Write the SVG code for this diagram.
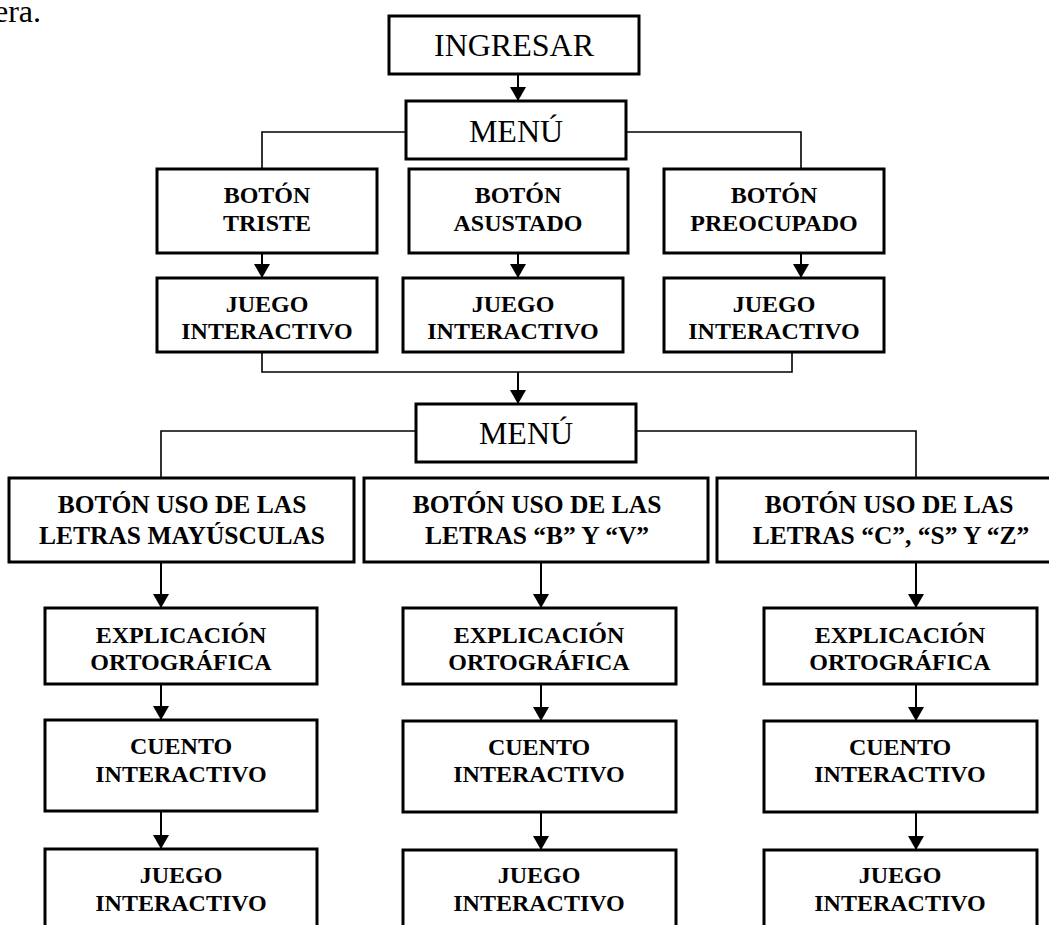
<svg xmlns="http://www.w3.org/2000/svg" width="1049" height="925" viewBox="0 0 1049 925">
<style>
.box{fill:#fff;stroke:#000;stroke-width:3}
.t{font-family:"Liberation Serif","Times New Roman",serif;fill:#000;text-anchor:middle}
.big{font-size:32px}
.b{font-size:24px;font-weight:bold}
.b2{font-size:25.5px;font-weight:bold}
.ln{fill:none;stroke:#000;stroke-width:1.6}
.ar{fill:none;stroke:#000;stroke-width:2;marker-end:url(#ah)}
</style>
<defs>
<marker id="ah" markerUnits="userSpaceOnUse" markerWidth="16" markerHeight="16" refX="14" refY="8" orient="auto">
<path d="M0,0 L14,8 L0,16 z" fill="#000"/>
</marker>
</defs>
<rect width="1049" height="925" fill="#fff"/>
<text class="t big" x="41" y="22" style="text-anchor:end">era.</text>
<g id="connectors">
<path class="ar" d="M518,75 V101"/>
<path class="ln" d="M406,132 H262 V169"/>
<path class="ln" d="M626,132 H801 V169"/>
<path class="ar" d="M262,253 V278"/>
<path class="ar" d="M518,253 V278"/>
<path class="ar" d="M801,253 V278"/>
<path class="ln" d="M262,352 V372 H792 V352"/>
<path class="ar" d="M518,372 V404"/>
<path class="ln" d="M416,431 H161 V478"/>
<path class="ln" d="M636,431 H916 V478"/>
<path class="ar" d="M161,562 V608"/>
<path class="ar" d="M541,562 V608"/>
<path class="ar" d="M916,562 V608"/>
<path class="ar" d="M161,684 V720"/>
<path class="ar" d="M541,684 V721"/>
<path class="ar" d="M916,684 V721"/>
<path class="ar" d="M161,811 V849"/>
<path class="ar" d="M541,812 V850"/>
<path class="ar" d="M916,812 V850"/>
</g>
<g id="ingresar"><rect class="box" x="389" y="16" width="250" height="58"/><text class="t big" x="514" y="56">INGRESAR</text></g>
<g id="menu1"><rect class="box" x="406" y="101" width="220" height="58"/><text class="t big" x="516" y="142">MENÚ</text></g>
<g id="boton-triste"><rect class="box" x="157" y="169" width="220" height="84"/><text class="t b" x="267" y="203">BOTÓN</text><text class="t b" x="267" y="231">TRISTE</text></g>
<g id="boton-asustado"><rect class="box" x="409" y="169" width="219" height="84"/><text class="t b" x="518" y="203">BOTÓN</text><text class="t b" x="518" y="231">ASUSTADO</text></g>
<g id="boton-preocupado"><rect class="box" x="664" y="169" width="220" height="84"/><text class="t b" x="774" y="203">BOTÓN</text><text class="t b" x="774" y="231">PREOCUPADO</text></g>
<g id="juego1"><rect class="box" x="157" y="278" width="220" height="74"/><text class="t b" x="267" y="312">JUEGO</text><text class="t b" x="267" y="339">INTERACTIVO</text></g>
<g id="juego2"><rect class="box" x="403" y="278" width="220" height="74"/><text class="t b" x="513" y="312">JUEGO</text><text class="t b" x="513" y="339">INTERACTIVO</text></g>
<g id="juego3"><rect class="box" x="664" y="278" width="220" height="74"/><text class="t b" x="774" y="312">JUEGO</text><text class="t b" x="774" y="339">INTERACTIVO</text></g>
<g id="menu2"><rect class="box" x="416" y="404" width="220" height="58"/><text class="t big" x="526" y="444">MENÚ</text></g>
<g id="boton-mayusculas"><rect class="box" x="9" y="478" width="345" height="84"/><text class="t b2" x="182" y="513">BOTÓN USO DE LAS</text><text class="t b2" x="182" y="544">LETRAS MAYÚSCULAS</text></g>
<g id="boton-bv"><rect class="box" x="364" y="478" width="344" height="84"/><text class="t b2" x="537" y="513">BOTÓN USO DE LAS</text><text class="t b2" x="537" y="544">LETRAS “B” Y “V”</text></g>
<g id="boton-csz"><rect class="box" x="717" y="478" width="345" height="84"/><text class="t b2" x="889" y="513">BOTÓN USO DE LAS</text><text class="t b2" x="891" y="544">LETRAS “C”, “S” Y “Z”</text></g>
<g id="explicacion1"><rect class="box" x="45" y="608" width="272" height="76"/><text class="t b" x="181" y="643">EXPLICACIÓN</text><text class="t b" x="181" y="670">ORTOGRÁFICA</text></g>
<g id="explicacion2"><rect class="box" x="403" y="608" width="273" height="76"/><text class="t b" x="539" y="643">EXPLICACIÓN</text><text class="t b" x="539" y="670">ORTOGRÁFICA</text></g>
<g id="explicacion3"><rect class="box" x="764" y="608" width="273" height="76"/><text class="t b" x="900" y="643">EXPLICACIÓN</text><text class="t b" x="900" y="670">ORTOGRÁFICA</text></g>
<g id="cuento1"><rect class="box" x="45" y="720" width="272" height="91"/><text class="t b" x="181" y="754">CUENTO</text><text class="t b" x="181" y="782">INTERACTIVO</text></g>
<g id="cuento2"><rect class="box" x="403" y="721" width="273" height="91"/><text class="t b" x="539" y="755">CUENTO</text><text class="t b" x="539" y="782">INTERACTIVO</text></g>
<g id="cuento3"><rect class="box" x="764" y="721" width="273" height="91"/><text class="t b" x="900" y="755">CUENTO</text><text class="t b" x="900" y="782">INTERACTIVO</text></g>
<g id="juego4"><rect class="box" x="45" y="849" width="272" height="100"/><text class="t b" x="181" y="883">JUEGO</text><text class="t b" x="181" y="911">INTERACTIVO</text></g>
<g id="juego5"><rect class="box" x="403" y="850" width="273" height="100"/><text class="t b" x="539" y="883">JUEGO</text><text class="t b" x="539" y="911">INTERACTIVO</text></g>
<g id="juego6"><rect class="box" x="764" y="850" width="273" height="100"/><text class="t b" x="900" y="883">JUEGO</text><text class="t b" x="900" y="911">INTERACTIVO</text></g>
</svg>
